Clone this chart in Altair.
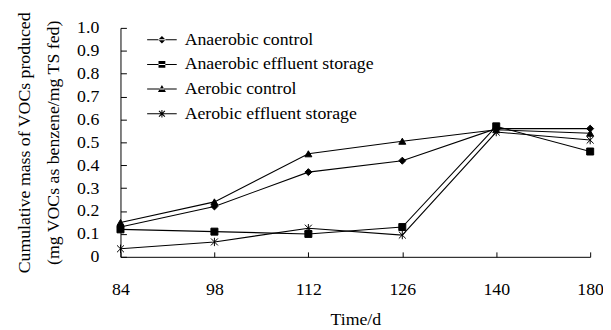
import altair as alt
import pandas as pd

days = ["84", "98", "112", "126", "140", "180"]
series = ["Anaerobic control", "Anaerobic effluent storage",
          "Aerobic control", "Aerobic effluent storage"]
anaerobic_control = [0.13, 0.22, 0.37, 0.42, 0.56, 0.56]
anaerobic_storage = [0.12, 0.11, 0.10, 0.13, 0.57, 0.46]
aerobic_control = [0.15, 0.24, 0.45, 0.505, 0.555, 0.54]
aerobic_storage = [0.035, 0.065, 0.125, 0.095, 0.545, 0.51]
y_ticks = [0.0, 0.1, 0.2, 0.3, 0.4, 0.5, 0.6, 0.7, 0.8, 0.9, 1.0]

rows = []
for name, vals in zip(series, [anaerobic_control, anaerobic_storage,
                               aerobic_control, aerobic_storage]):
    for d, v in zip(days, vals):
        rows.append({"series": name, "day": d, "value": v})
df = pd.DataFrame(rows)

FONT = "'Liberation Serif', 'Times New Roman', serif"
W, H = 476, 232


def seg(x1, y1, x2, y2, t=0.035):
    dx, dy = x2 - x1, y2 - y1
    ln = (dx * dx + dy * dy) ** 0.5
    nx, ny = -dy / ln * t, dx / ln * t
    pts = [(x1 + nx, y1 + ny), (x2 + nx, y2 + ny), (x2 - nx, y2 - ny), (x1 - nx, y1 - ny)]
    return "M" + "L".join(f"{px:.3f},{py:.3f}" for px, py in pts) + "Z"


LINE = seg(-1, 0, 1, 0)
asterisk = "M-1,-1L1,1M1,-1L-1,1M0,-1.2L0,1.2"
point_shapes = ["diamond", "square", "triangle-up", asterisk]
legend_shapes = [
    LINE + "M0,-0.25L0.25,0L0,0.25L-0.25,0Z",
    LINE + "M-0.23,-0.23H0.23V0.23H-0.23Z",
    LINE + "M0,-0.27L0.27,0.2L-0.27,0.2Z",
    LINE + seg(-0.2, -0.2, 0.2, 0.2) + seg(0.2, -0.2, -0.2, 0.2) + seg(0, -0.26, 0, 0.26),
]

xscale = alt.Scale(type="point", padding=0, domain=days)
yscale = alt.Scale(domain=[0, 1], nice=False, zero=True)

base = alt.Chart(df)

lines = base.mark_line(color="black", strokeWidth=1.1).encode(
    x=alt.X("day:O", scale=xscale, sort=days,
            axis=alt.Axis(orient="bottom", ticks=False, tickSize=0, domain=True,
                          labelAngle=0, labelPadding=24, title="Time/d",
                          titlePadding=13, grid=False)),
    y=alt.Y("value:Q", scale=yscale,
            axis=alt.Axis(orient="left", values=y_ticks, ticks=False, tickSize=0,
                          labelPadding=22, domain=True, grid=False,
                          labelExpr="datum.value == 0 ? '0' : format(datum.value, '.1f')",
                          title=["Cumulative mass of VOCs produced",
                                 "(mg VOCs as benzene/mg TS fed)"],
                          titlePadding=14, titleLineHeight=30)),
    detail="series:N",
)

points = base.mark_point(filled=True, color="black", stroke="black",
                         strokeWidth=1, size=50, opacity=1).encode(
    x=alt.X("day:O", scale=xscale, sort=days,
            axis=alt.Axis(orient="top", offset=-H, labels=False, domain=False,
                          tickSize=5, title=None, grid=False)),
    y=alt.Y("value:Q", scale=yscale,
            axis=alt.Axis(orient="right", offset=-W, labels=False, domain=False,
                          values=y_ticks, tickSize=6, title=None, grid=False)),
    shape=alt.Shape("series:N", scale=alt.Scale(domain=series, range=point_shapes),
                    legend=None),
)

legend_layer = base.transform_filter("datum.value < -1").mark_point(
    filled=True, color="black", opacity=1
).encode(
    shape=alt.Shape("series:N",
                    scale=alt.Scale(domain=series, range=legend_shapes),
                    legend=alt.Legend(title=None, orient="none", legendX=26, legendY=-4,
                                      symbolSize=900, symbolFillColor="black",
                                      labelFont=FONT, labelFontSize=18, labelLimit=500,
                                      labelColor="black", labelOffset=7,
                                      rowPadding=-0.5, padding=0)),
)

chart = alt.layer(lines, points, legend_layer).resolve_scale(
    shape="independent"
).resolve_axis(
    x="independent", y="independent"
).properties(
    width=W, height=H,
    autosize=alt.AutoSizeParams(type="none"),
    padding={"left": 114, "top": 18, "right": 13, "bottom": 72},
).configure_view(stroke=None).configure_axis(
    labelFont=FONT, titleFont=FONT, labelColor="black", titleColor="black",
    tickColor="black", domainColor="black", labelFontSize=18, titleFontSize=18,
    titleFontWeight="normal", domainWidth=1, tickWidth=1,
)

chart.save("out.html", embed_options={"renderer": "svg", "actions": False})
